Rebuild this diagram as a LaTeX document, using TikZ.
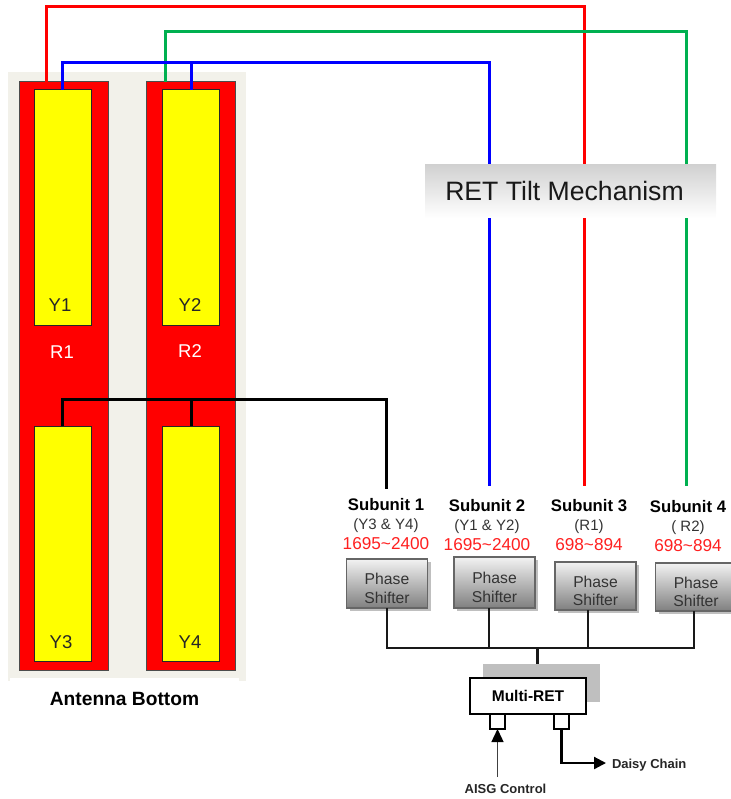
\documentclass[tikz,border=0pt]{standalone}
\usepackage{fontspec}
\setmainfont{Liberation Sans}
\usepackage{tikz}
\usetikzlibrary{arrows.meta,shadows}

\definecolor{panelgray}{HTML}{F2F1EA}
\definecolor{wirered}{HTML}{FF0000}
\definecolor{wireblue}{HTML}{0000FF}
\definecolor{wiregreen}{HTML}{00B050}
\definecolor{freqred}{HTML}{FF2020}
\definecolor{dipyellow}{HTML}{FFFF00}

\newcommand{\fs}[1]{\fontsize{#1}{#1}\selectfont}
\newcommand{\psname}{\rule{0pt}{21pt}Phase\\[3pt]Shifter}

\begin{document}
\begin{tikzpicture}[x=1pt,y=-1pt,font=\rmfamily,>=Stealth,
  every node/.style={inner sep=0pt,outer sep=0pt},
  radiator/.style={draw=black!70,line width=1pt,fill=red,minimum width=89pt,minimum height=588pt},
  dipole/.style={draw=black!85,line width=1pt,fill=dipyellow,minimum width=57pt,minimum height=235pt},
  lbl/.style={font=\fs{18.5},text=black!85},
  wire/.style={line width=3pt},
  cable/.style={line width=3pt,black},
  bus/.style={line width=2.2pt,black!90},
  subname/.style={font=\fs{16.7}\bfseries,text=black},
  subband/.style={font=\fs{15},text=black!80},
  subfreq/.style={font=\fs{17.2},text=freqred},
  phase/.style={draw=black!60,line width=1.6pt,top color=black!5,bottom color=black!50,
    minimum width=81pt,align=center,font=\fs{15.7},text=black!80,
    drop shadow={shadow xshift=3pt,shadow yshift=-3pt,fill=black!25,opacity=1}},
  port/.style={draw=black,line width=1.6pt,fill=white,minimum width=15pt,minimum height=15pt},
  small/.style={font=\fs{13}\bfseries,text=black!85},
]

\useasboundingbox (0,0) rectangle (730,799);

% ============================================================
% Antenna panel
% ============================================================
\node[fill=panelgray,minimum width=238pt,minimum height=609pt] (panel) at (127,376.5) {};
\node[fill=white,minimum width=229pt,minimum height=30pt] (basepatch) at (124.5,693) {};
\node[font=\fs{19.2}\bfseries] (baselbl) at (124.5,699) {Antenna Bottom};

\node[radiator] (r1) at (63.5,376) {};
\node[radiator] (r2) at (190.5,376) {};

\node[dipole] (y1) at (62.5,207.5) {};
\node[dipole] (y2) at (191,207.5) {};
\node[dipole] (y3) at (62.5,543.5) {};
\node[dipole] (y4) at (191,543.5) {};

% Element labels
\node[lbl] (y1lbl) at (60,305) {Y1};
\node[lbl] (y2lbl) at (190,305) {Y2};
\node[lbl] (y3lbl) at (61,642) {Y3};
\node[lbl] (y4lbl) at (190,642) {Y4};
\node[lbl,text=white] (r1lbl) at (62,352) {R1};
\node[lbl,text=white] (r2lbl) at (190,351) {R2};

% ============================================================
% Subunit labels
% ============================================================
\node[subname] (sub1) at (386,505) {Subunit 1};
\node[subname] (sub2) at (487,506) {Subunit 2};
\node[subname] (sub3) at (589,506) {Subunit 3};
\node[subname] (sub4) at (688,507) {Subunit 4};

\node[subband] (band1) at (386,526) {(Y3 \& Y4)};
\node[subband] (band2) at (487,527) {(Y1 \& Y2)};
\node[subband] (band3) at (589,527) {(R1)};
\node[subband] (band4) at (688,528) {( R2)};

\node[subfreq] (freq1) at (386,544) {1695\textasciitilde 2400};
\node[subfreq] (freq2) at (487,545) {1695\textasciitilde 2400};
\node[subfreq] (freq3) at (589,545) {698\textasciitilde 894};
\node[subfreq] (freq4) at (688,546) {698\textasciitilde 894};

% ============================================================
% Wires up to the tilt mechanism
% ============================================================
\coordinate (in1) at (386,489);
\coordinate (in2) at (489,486);
\coordinate (in3) at (584,486);
\coordinate (in4) at (686,486);
\coordinate (redtop) at (46,7);
\coordinate (greentop) at (165,32);
\coordinate (bluetop) at (62.5,63);
\coordinate (blacktop) at (62.5,399);

\draw[wire,wirered] (46,0 |- r1.north) -- (redtop) -| (in3);
\draw[wire,wiregreen] (165,0 |- r2.north) -- (greentop) -| (in4);
\draw[wire,wireblue] (y1.north) -- (bluetop) -| (in2);
\draw[wire,wireblue] (y2.north) -- (y2.north |- bluetop);
\draw[cable] (y3.north) -- (blacktop) -| (in1);
\draw[cable] (y4.north) -- (y4.north |- blacktop);

\node[top color=black!18,bottom color=white,minimum width=291pt,minimum height=53pt] (tilt) at (570.5,191.5) {};
\node[font=\fs{26.6},text=black!90] (tiltlbl) at (564.5,191) {RET Tilt Mechanism};

% ============================================================
% Phase shifters and bus
% ============================================================
\node[phase,minimum height=49pt] (ps1) at (387,583.5) {\psname};
\node[phase,minimum height=51pt] (ps2) at (494.5,582.5) {\psname};
\node[phase,minimum height=48pt] (ps3) at (595.5,586) {\psname};
\node[phase,minimum height=48pt] (ps4) at (696,587) {\psname};

\coordinate (busleft) at (387,648);
\coordinate (busright) at (694,648);

\draw[bus] (ps1.south) -- (busleft) -- (busright) -- (694,0 |- ps4.south);
\draw[bus] (489,0 |- ps2.south) -- (489,0 |- busleft);
\draw[bus] (588,0 |- ps3.south) -- (588,0 |- busleft);

% ============================================================
% Multi-RET unit
% ============================================================
\node[fill=black!25,minimum width=117pt,minimum height=38pt] (retback) at (541.5,683) {};
\draw[bus] (537.5,0 |- busleft) -- (537.5,0 |- retback.north);

\node[draw=black,line width=2pt,fill=white,minimum width=116pt,minimum height=36pt,
  font=\fs{15.5}\bfseries] (ret) at (528,696) {Multi-RET};
\node[port] (aisg) at (497.5,721.5) {};
\node[port] (daisy) at (561.5,721.5) {};

\node[small] (aisglbl) at (505.5,789) {AISG Control};
\node[small,anchor=west] (daisylbl) at (612,765) {Daisy Chain};

\coordinate (aisgfree) at (497.5,777);
\coordinate (daisyfree) at (606,763);

\draw[line width=1.4pt,black!75,-{Triangle[length=13pt,width=12pt,black]}] (aisgfree) -- (aisg.south);
\draw[line width=2.2pt,black,-{Triangle[length=12pt,width=12pt]}] (daisy.south) |- (daisyfree);

\end{tikzpicture}
\end{document}
